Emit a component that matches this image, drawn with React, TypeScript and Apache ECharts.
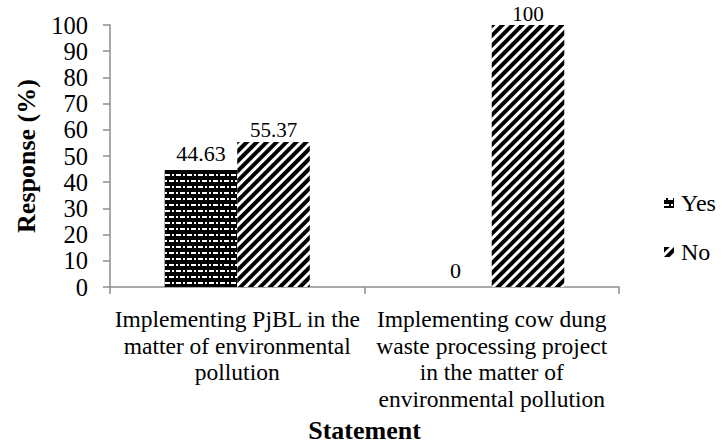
import React, { useEffect, useRef } from "react";
import * as echarts from "echarts";

const categories = [
  "Implementing PjBL in the\nmatter of environmental\npollution",
  "Implementing cow dung\nwaste processing project\nin the matter of\nenvironmental pollution",
];
const yesValues = [44.63, 0];
const noValues = [55.37, 100];
const yTicks = { min: 0, max: 100, interval: 10 };

const FONT = "Liberation Serif";

export default function App() {
  const ref = useRef<HTMLDivElement>(null);
  useEffect(() => {
    document.body.style.margin = "0";
    if (!ref.current) return;
    const chart = echarts.init(ref.current, undefined, { renderer: "svg" });
    chart.setOption({
      animation: false,
      textStyle: { fontFamily: FONT },
      grid: { left: 110, right: 104, top: 25, bottom: 148 },
      legend: {
        orient: "vertical",
        left: 659,
        top: 186,
        itemWidth: 10,
        itemHeight: 10,
        itemGap: 25,
        icon: "rect",
        textStyle: { fontFamily: FONT, fontSize: 24, color: "#000", padding: [0, 0, 0, 2] },
        data: ["Yes", "No"],
      },
      xAxis: {
        type: "category",
        data: categories,
        name: "Statement",
        nameLocation: "middle",
        nameGap: 143,
        nameMoveOverlap: false,
        nameTextStyle: {
          fontFamily: FONT,
          fontSize: 26,
          fontWeight: "bold",
          color: "#000",
          verticalAlign: "middle",
        },
        axisLine: { lineStyle: { color: "#8c8c8c", width: 1.5 } },
        axisTick: { show: true, length: 7, lineStyle: { color: "#8c8c8c", width: 1.5 } },
        axisLabel: {
          interval: 0,
          fontFamily: FONT,
          fontSize: 23.5,
          lineHeight: 26.5,
          color: "#000",
          margin: 19,
        },
      },
      yAxis: {
        type: "value",
        min: yTicks.min,
        max: yTicks.max,
        interval: yTicks.interval,
        name: "Response (%)",
        nameLocation: "middle",
        nameGap: 84,
        nameMoveOverlap: false,
        nameTextStyle: {
          fontFamily: FONT,
          fontSize: 26,
          fontWeight: "bold",
          color: "#000",
          verticalAlign: "middle",
        },
        splitLine: { show: false },
        axisLine: { show: true, lineStyle: { color: "#8c8c8c", width: 1.5 } },
        axisTick: { show: true, length: 7, lineStyle: { color: "#8c8c8c", width: 1.5 } },
        axisLabel: { fontFamily: FONT, fontSize: 24.5, color: "#000", margin: 22 },
      },
      series: [
        {
          name: "Yes",
          type: "bar",
          data: yesValues,
          barGap: "0%",
          barCategoryGap: "43%",
          itemStyle: {
            color: "#000",
            decal: {
              symbol: "rect",
              color: "#fff",
              dashArrayX: [[5, 2, 2, 2], [2, 2, 5, 2]],
              dashArrayY: [1.3, 4],
              symbolSize: 1,
              rotation: 0,
            },
          },
          label: {
            show: true,
            position: "top",
            fontFamily: FONT,
            fontSize: 22,
            color: "#000",
            distance: 6,
          },
        },
        {
          name: "No",
          type: "bar",
          data: noValues,
          itemStyle: {
            color: "#fff",
            decal: {
              symbol: "rect",
              color: "#000",
              dashArrayX: [1, 0],
              dashArrayY: [3.4, 3],
              symbolSize: 1,
              rotation: -Math.PI / 4,
            },
          },
          label: {
            show: true,
            position: "top",
            fontFamily: FONT,
            fontSize: 21,
            color: "#000",
            distance: 1,
          },
        },
      ],
    });
    return () => chart.dispose();
  }, []);
  return <div ref={ref} style={{ width: 723, height: 448 }} />;
}
